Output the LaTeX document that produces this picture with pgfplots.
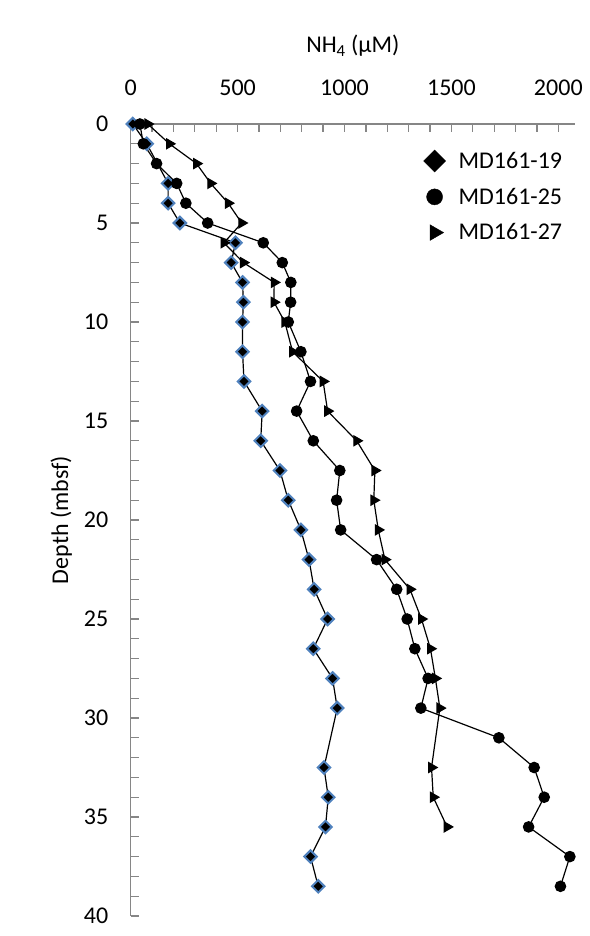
\documentclass[border=0pt]{standalone}
\usepackage{fontspec}
\setmainfont{Carlito}
\usepackage{pgfplots}
\usepackage{pgfplotstable}
\pgfplotsset{compat=1.18}

\definecolor{axgray}{RGB}{134,134,134}
\definecolor{diablue}{RGB}{79,129,189}

% NH4 (uM) against depth (mbsf)
\pgfplotstableread{
depth nh4
0    10
1    75
3    175
4    175
5    230
6    490
7    470
8    523
9    527
10   523
11.5 523
13   530
14.5 615
16   608
17.5 698
19   737
20.5 796
22   834
23.5 858
25   921
26.5 854
28   944
29.5 966
32.5 904
34   924
35.5 911
37   841
38.5 877
}\coreA

\pgfplotstableread{
depth nh4
0    43
1    59
2    121
3    215
4    258
5    360
6    620
7    709
8    749
9    748
10   737
11.5 796
13   841
14.5 776
16   854
17.5 978
19   963
20.5 982
22   1150
23.5 1244
25   1293
26.5 1329
28   1391
29.5 1357
31   1722
32.5 1887
34   1934
35.5 1861
37   2054
38.5 2010
}\coreB

\pgfplotstableread{
depth nh4
0    80
1    181
2    308
3    374
4    456
5    519
6    436
7    527
8    671
9    670
10   721
11.5 757
13   900
14.5 921
16   1057
17.5 1142
19   1137
20.5 1158
22   1189
23.5 1306
25   1360
26.5 1402
28   1425
29.5 1446
32.5 1407
34   1415
35.5 1480
}\coreC

\begin{document}
\begin{tikzpicture}
\begin{axis}[
  scale only axis,
  width=444.3pt, height=792pt,
  xmin=0, xmax=2078, ymin=0, ymax=40,
  y dir=reverse,
  axis x line*=top, axis y line*=left,
  axis line style={axgray, line width=1.3pt, -},
  xtick={0,500,...,2000}, minor xtick={0,100,...,2000},
  ytick={0,5,...,40}, minor ytick={0,1,...,40},
  tick align=inside,
  major tick length=8pt, minor tick length=8pt,
  every tick/.style={axgray, line width=1.3pt},
  /pgf/number format/assume math mode=true,
  /pgf/number format/1000 sep={},
  tick label style={font=\fontsize{24}{28}\selectfont, black},
  xticklabel style={yshift=25pt},
  yticklabel style={xshift=-19pt},
  label style={font=\fontsize{24}{28}\selectfont},
  xlabel={NH\textsubscript{4} (µM)},
  xlabel style={yshift=16pt},
  ylabel={Depth (mbsf)},
  ylabel style={yshift=5pt},
  legend image code/.code={\draw[#1] plot coordinates {(0.3cm,0cm)};},
  legend style={draw=none, fill=none, font=\fontsize{24}{28}\selectfont,
    at={(axis description cs:0.652,0.97)}, anchor=north west,
    row sep=14pt,
    /tikz/every odd column/.append style={column sep=11pt}},
  legend cell align=left,
]
\addplot[black, line width=1.2pt, mark=square*, mark size=4.4pt,
  mark options={fill=black, draw=diablue, line width=2pt, rotate=45}, forget plot]
  table[x=nh4, y=depth] {\coreA};
\addplot[black, line width=1.2pt, mark=*, mark size=5.2pt,
  mark options={fill=black, draw=black}, forget plot]
  table[x=nh4, y=depth] {\coreB};
\addplot[black, line width=1.2pt, mark=triangle*, mark size=5.6pt,
  mark options={fill=black, draw=black, rotate=-90}, forget plot]
  table[x=nh4, y=depth] {\coreC};

\addlegendimage{only marks, mark=square*, mark size=7.8pt, black, mark options={rotate=45}}
\addlegendentry{MD161-19}
\addlegendimage{only marks, mark=*, mark size=8pt, black}
\addlegendentry{MD161-25}
\addlegendimage{only marks, mark=triangle*, mark size=9pt, black, mark options={rotate=-90}}
\addlegendentry{MD161-27}
\end{axis}
\pgfresetboundingbox
\path[use as bounding box]
  ([xshift=-130.7pt,yshift=-20pt]current axis.south west) rectangle
  ([xshift=14pt,yshift=124pt]current axis.north east);
\end{tikzpicture}
\end{document}
